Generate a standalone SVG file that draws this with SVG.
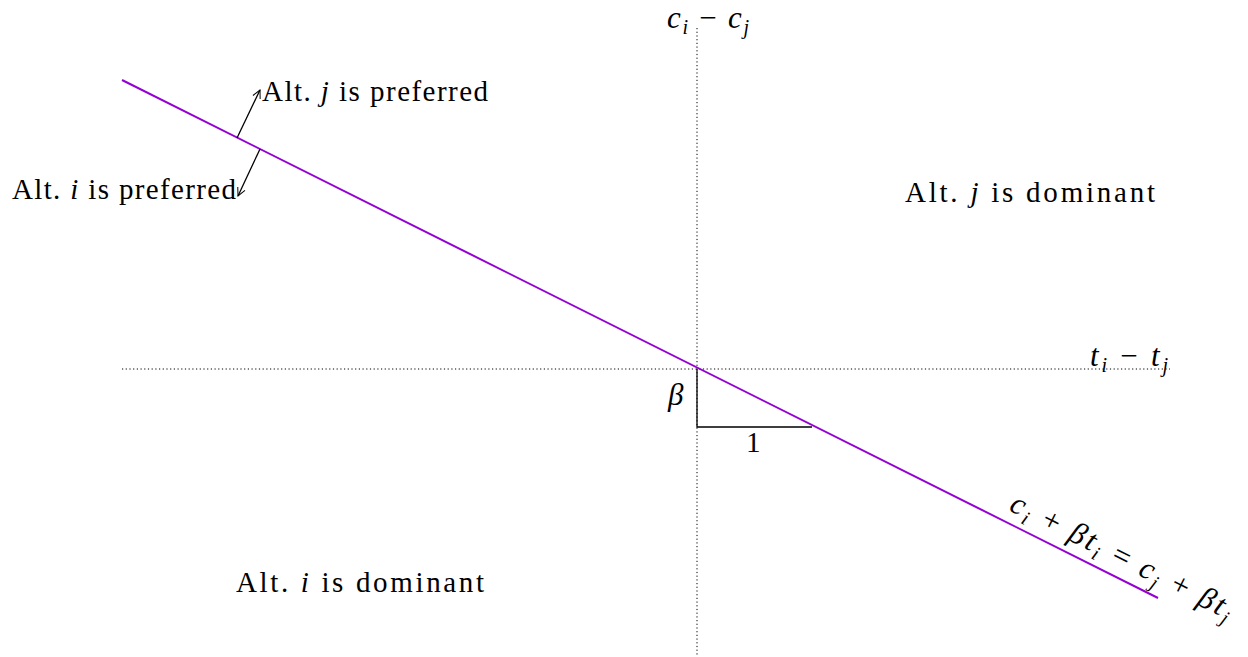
<svg xmlns="http://www.w3.org/2000/svg" width="1248" height="657" viewBox="0 0 1248 657">
<defs>
<marker id="ah" viewBox="0 0 10 10" refX="9" refY="5" markerWidth="10" markerHeight="10" markerUnits="userSpaceOnUse" orient="auto">
<path d="M1,1 L9,5 L1,9" fill="none" stroke="#000" stroke-width="1"/>
</marker>
<style>
.t{font-family:"Liberation Serif","DejaVu Serif",serif;font-size:29px;fill:#000}
.m{font-family:"Liberation Serif","DejaVu Serif",serif;font-size:31px;font-style:italic;fill:#000}
.s{font-size:20px}
.ax{stroke:#000;stroke-width:1;stroke-dasharray:1.2 2.5;fill:none}
.bl{stroke:#000;stroke-width:1.3;fill:none}
</style>
</defs>
<g id="axes">
<line class="ax" x1="697" y1="28" x2="697" y2="657"/>
<line class="ax" x1="122" y1="369" x2="1170" y2="369"/>
</g>
<g id="boundary">
<line x1="122" y1="80" x2="1158" y2="598" stroke="#9400D3" stroke-width="2"/>
</g>
<g id="connectors">
<line class="bl" x1="237" y1="138" x2="260" y2="90" marker-end="url(#ah)"/>
<line class="bl" x1="260" y1="149" x2="238" y2="196" marker-end="url(#ah)"/>
<polyline class="bl" points="697,369 697,427 812,427"/>
</g>
<g id="label-cij"><text class="m" x="667" y="28" textLength="82">c<tspan class="s" dy="6">i</tspan><tspan dy="-6" font-style="normal"> − </tspan>c<tspan class="s" dy="6">j</tspan></text></g>
<g id="label-tij"><text class="m" x="1090" y="366" textLength="78">t<tspan class="s" dy="6">i</tspan><tspan dy="-6" font-style="normal"> − </tspan>t<tspan class="s" dy="6">j</tspan></text></g>
<g id="label-beta"><text class="m" x="668" y="405">β</text></g>
<g id="label-one"><text class="t" x="746" y="452" font-size="29">1</text></g>
<g id="pref-j"><text class="t" x="262" y="101" textLength="226">Alt. <tspan font-style="italic">j</tspan> is preferred</text></g>
<g id="pref-i"><text class="t" x="12" y="199" textLength="224">Alt. <tspan font-style="italic">i</tspan> is preferred</text></g>
<g id="dom-j"><text class="t" x="905" y="202" textLength="250">Alt. <tspan font-style="italic">j</tspan> is dominant</text></g>
<g id="dom-i"><text class="t" x="236" y="592" textLength="248">Alt. <tspan font-style="italic">i</tspan> is dominant</text></g>
<g id="eq-label"><text class="m" transform="translate(1008,510) rotate(26.57)" textLength="245">c<tspan class="s" dy="6">i</tspan><tspan dy="-6" font-style="normal"> + </tspan>βt<tspan class="s" dy="6">i</tspan><tspan dy="-6" font-style="normal"> = </tspan>c<tspan class="s" dy="6">j</tspan><tspan dy="-6" font-style="normal"> + </tspan>βt<tspan class="s" dy="6">j</tspan></text></g>
</svg>
